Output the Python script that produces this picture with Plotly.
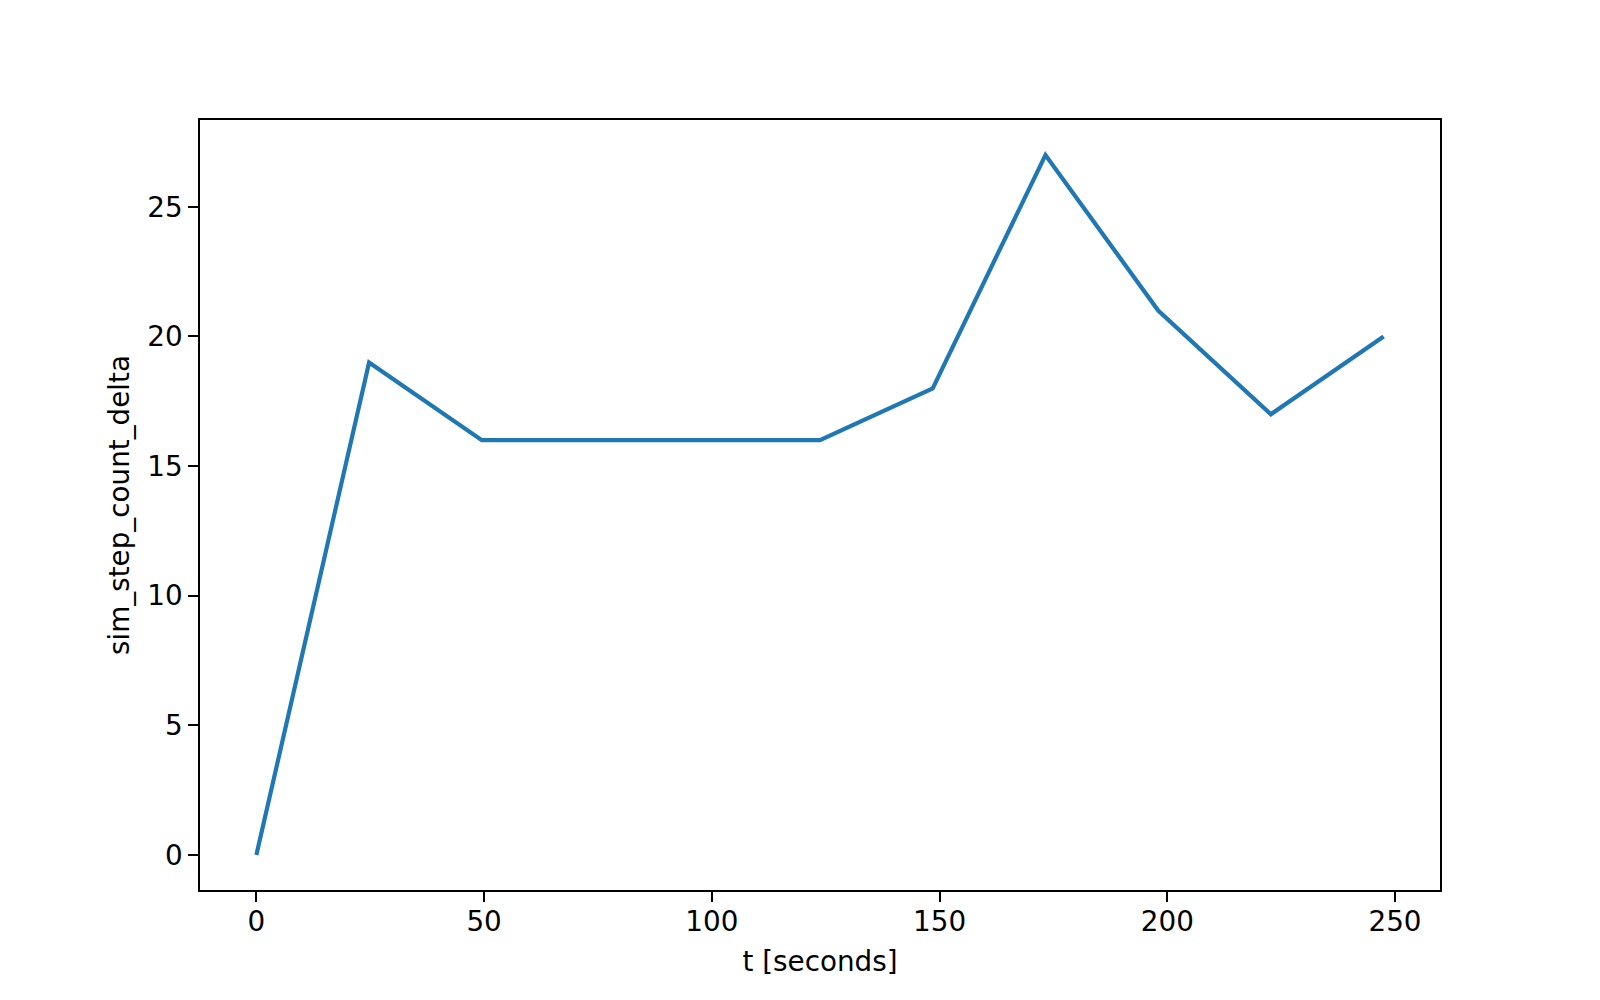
import plotly.graph_objects as go

t_seconds = [0, 24.75, 49.5, 74.25, 99, 123.75, 148.5, 173.25, 198, 222.75, 247.5]
sim_step_count_delta = [0, 19, 16, 16, 16, 16, 18, 27, 21, 17, 20]

x_ticks = [0, 50, 100, 150, 200, 250]
y_ticks = [0, 5, 10, 15, 20, 25]

font_family = "DejaVu Sans"
fs = 27.8

fig = go.Figure()
fig.add_trace(go.Scatter(
    x=t_seconds, y=sim_step_count_delta, mode="lines",
    line=dict(color="#1f77b4", width=4.2),
    showlegend=False,
))

axis_common = dict(
    showgrid=False, zeroline=False, showline=True, linecolor="black", linewidth=2.2,
    mirror=True, ticks="outside", ticklen=9.7, tickwidth=2.2, tickcolor="black",
    tickfont=dict(family=font_family, size=fs, color="black"),
)

# page body has an 8px margin, so the figure is 8px smaller and shifted
fig.update_layout(
    width=1592, height=992,
    margin=dict(l=192, r=160, t=112, b=110, autoexpand=False),
    paper_bgcolor="white", plot_bgcolor="white",
    font=dict(family=font_family, size=fs, color="black"),
    xaxis=dict(
        range=[-12.375, 259.875], tickvals=x_ticks, ticktext=[str(v) for v in x_ticks],
        ticklabelstandoff=-4,
        title=dict(text="t [seconds]", font=dict(family=font_family, size=fs, color="black"), standoff=14),
        automargin=False, **axis_common,
    ),
    yaxis=dict(
        range=[-1.35, 28.35], tickvals=y_ticks, ticktext=[str(v) for v in y_ticks],
        title=dict(text="sim_step_count_delta", font=dict(family=font_family, size=fs, color="black"), standoff=10),
        automargin=False, **axis_common,
    ),
)

fig.write_html("out.html")
